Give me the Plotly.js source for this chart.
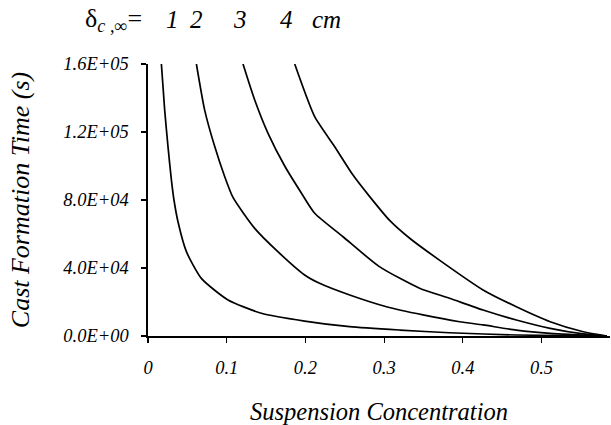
<!DOCTYPE html>
<html>
<head>
<meta charset="utf-8">
<script src="https://cdn.plot.ly/plotly-3.0.1.min.js"></script>
<style>
html,body{margin:0;padding:0;background:#fff}
#chart{width:611px;height:425px}
</style>
</head>
<body>
<div id="chart"></div>
<script>
// Curve for delta = 1 cm
var x1 = [0.017, 0.0212, 0.0254, 0.0297, 0.033, 0.0381, 0.0488, 0.0678, 0.1017, 0.144, 0.199, 0.256, 0.32, 0.383, 0.468, 0.583];
var y1 = [160000, 132900, 111400, 91800, 80000, 67200, 49600, 33900, 21200, 13400, 8800, 5500, 3500, 1900, 600, 0];
// delta = 2 cm
var x2 = [0.0615, 0.072, 0.0848, 0.0975, 0.108, 0.1356, 0.165, 0.199, 0.218, 0.2563, 0.303, 0.3494, 0.396, 0.4257, 0.468, 0.511, 0.583];
var y2 = [160000, 132900, 111400, 93700, 81500, 63300, 49600, 35900, 31000, 24100, 17200, 12400, 8400, 6500, 3500, 1600, 0];
// delta = 3 cm
var x3 = [0.1207, 0.1356, 0.1525, 0.1737, 0.195, 0.2118, 0.2478, 0.294, 0.345, 0.383, 0.4257, 0.468, 0.511, 0.553, 0.583];
var y3 = [160000, 138800, 119200, 100000, 84000, 72200, 58400, 40800, 28100, 22200, 15300, 9400, 4500, 1200, 0];
// delta = 4 cm
var x4 = [0.1864, 0.2118, 0.237, 0.26, 0.2817, 0.307, 0.3325, 0.3707, 0.4257, 0.468, 0.511, 0.553, 0.583];
var y4 = [160000, 129000, 111500, 95000, 82000, 68000, 57500, 44500, 27100, 17200, 8400, 2500, 0];

var yTickVals = [0, 40000, 80000, 120000, 160000];
var yTickText = ["0.0E+00", "4.0E+04", "8.0E+04", "1.2E+05", "1.6E+05"];
var xTickVals = [0, 0.1, 0.2, 0.3, 0.4, 0.5];
var xTickText = ["0", "0.1", "0.2", "0.3", "0.4", "0.5"];
var curveLabels = ["1", "2", "3", "4"];

var serif = "Liberation Serif, Times New Roman, serif";
var xs = [x1, x2, x3, x4], ys = [y1, y2, y3, y4];
var traces = xs.map(function (xx, i) {
  return {
    x: xx, y: ys[i], type: "scatter", mode: "lines",
    line: {color: "#000", width: 1.7, shape: "spline", smoothing: 0.6},
    name: curveLabels[i] + " cm", showlegend: false, hoverinfo: "skip"
  };
});

var labelX = [0.0535, 0.1055, 0.2, 0.3002];
var annotations = [{
  xref: "paper", yref: "paper", x: -0.1407, y: 1.162, xanchor: "left", yanchor: "middle",
  text: "δ<sub><i>c ,∞</i></sub>=", showarrow: false,
  font: {family: serif, size: 26, color: "#000"}
}];
curveLabels.forEach(function (t, i) {
  annotations.push({
    xref: "paper", yref: "paper", x: labelX[i], y: 1.162, xanchor: "center", yanchor: "middle",
    text: "<i>" + t + "</i>", showarrow: false,
    font: {family: serif, size: 25, color: "#000"}
  });
});
annotations.push({
  xref: "paper", yref: "paper", x: 0.3874, y: 1.162, xanchor: "center", yanchor: "middle",
  text: "<i>cm</i>", showarrow: false, font: {family: serif, size: 25, color: "#000"}
});

var layout = {
  width: 611, height: 425,
  margin: {l: 148, r: 1, t: 64, b: 89, pad: 0},
  paper_bgcolor: "#fff", plot_bgcolor: "#fff",
  showlegend: false,
  font: {family: serif, color: "#000"},
  xaxis: {
    range: [0, 0.587], tickmode: "array", tickvals: xTickVals, ticktext: xTickText,
    ticks: "outside", ticklen: 5, tickwidth: 1.2, tickcolor: "#000",
    showline: true, linecolor: "#000", linewidth: 1.6, showgrid: false, zeroline: false,
    ticklabelstandoff: 9,
    tickfont: {family: serif, size: 18.5, color: "#000", style: "italic"},
    title: {text: "Suspension Concentration", standoff: 30,
      font: {family: serif, size: 24.5, color: "#000", style: "italic"}},
    automargin: false
  },
  yaxis: {
    range: [0, 160000], tickmode: "array", tickvals: yTickVals, ticktext: yTickText,
    ticks: "outside", ticklen: 5, tickwidth: 1.2, tickcolor: "#000",
    showline: true, linecolor: "#000", linewidth: 1.6, showgrid: false, zeroline: false,
    ticklabelstandoff: 9,
    tickfont: {family: serif, size: 18.5, color: "#000", style: "italic"},
    title: {text: "Cast Formation Time (s)", standoff: 26,
      font: {family: serif, size: 26, color: "#000", style: "italic"}},
    automargin: false
  },
  annotations: annotations
};

Plotly.newPlot("chart", traces, layout, {staticPlot: true, displayModeBar: false});
</script>
</body>
</html>
